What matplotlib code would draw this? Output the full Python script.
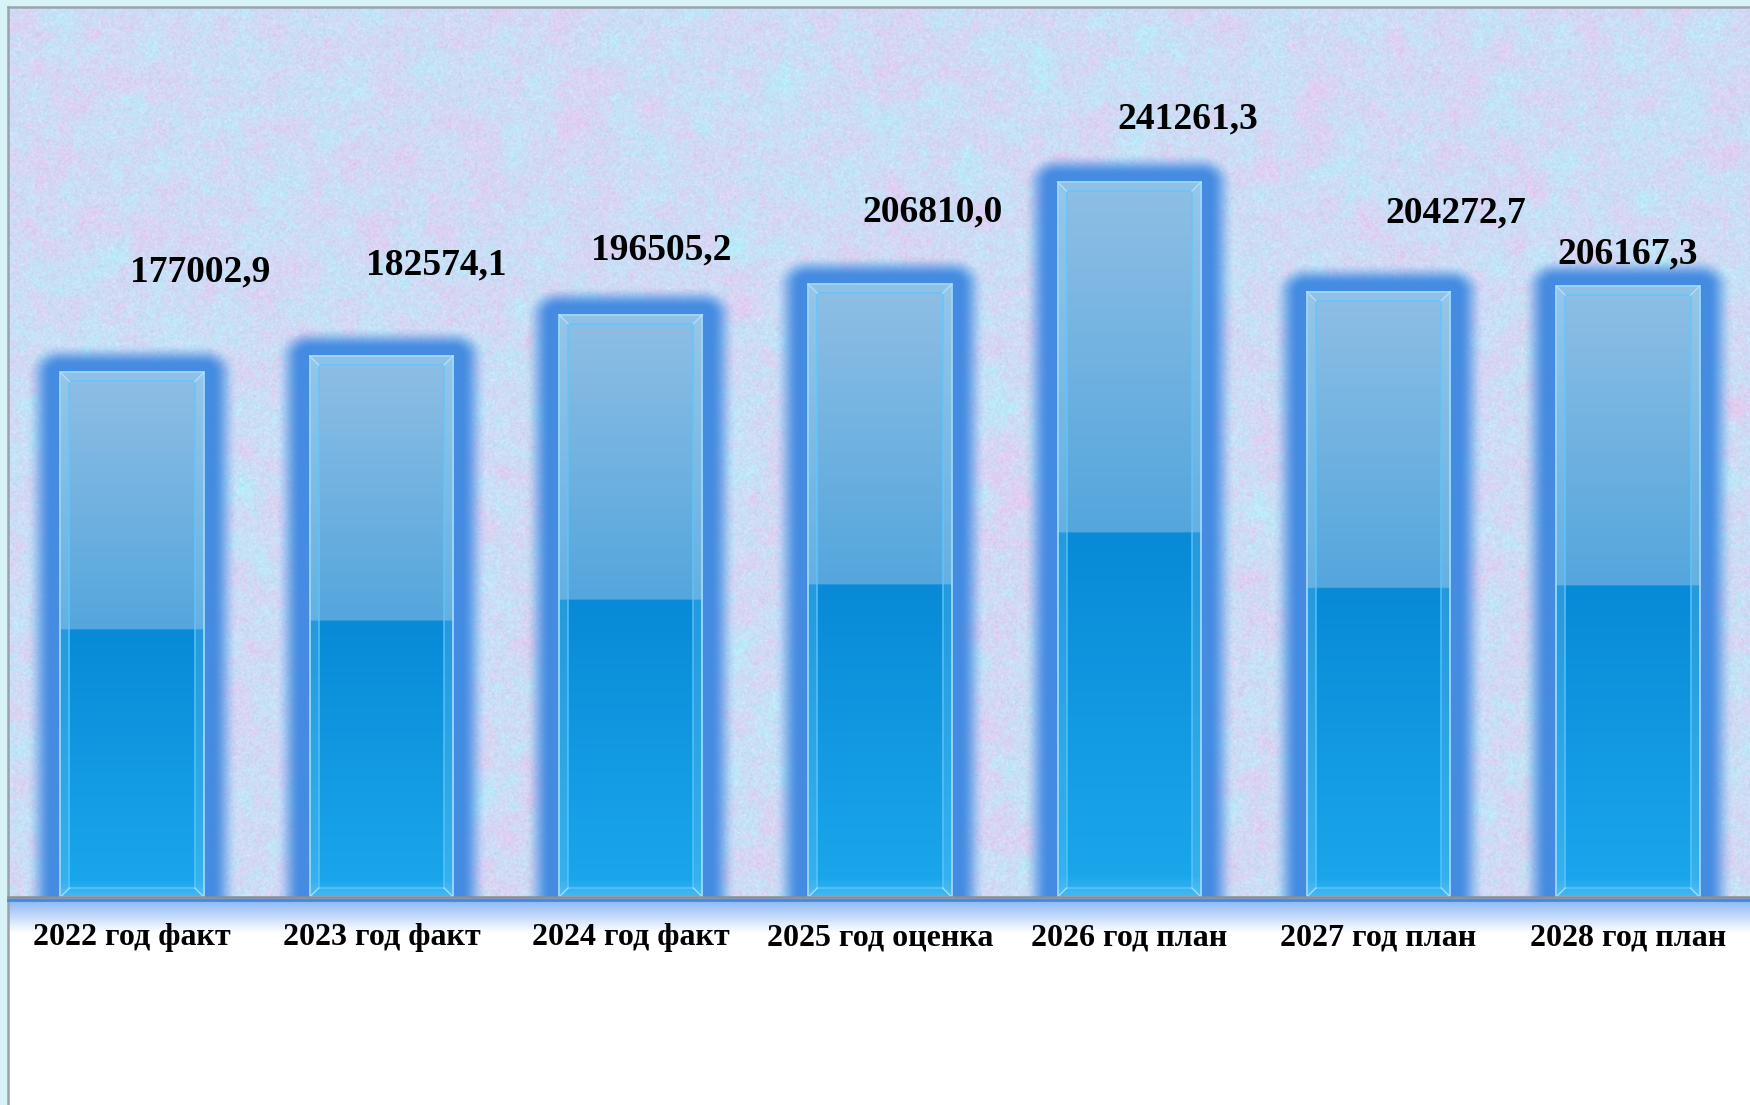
import numpy as np
import matplotlib
matplotlib.use("Agg")
import matplotlib.pyplot as plt
from matplotlib.patches import Rectangle, Polygon
from matplotlib.lines import Line2D

# ---------------- data ----------------
categories = ["2022 год факт", "2023 год факт", "2024 год факт", "2025 год оценка",
              "2026 год план", "2027 год план", "2028 год план"]
values = [177002.9, 182574.1, 196505.2, 206810.0, 241261.3, 204272.7, 206167.3]
# label offsets (pixels) from the bar top centre, as placed in the original
label_dx = [68, 55, 31, 53, 58, 77, 0]
label_dy = [100, 91, 65, 72, 63, 79, 32]

W_PX, H_PX = 1750, 1105
DPI = 100
fig = plt.figure(figsize=(W_PX / DPI, H_PX / DPI), dpi=DPI)
fig.patch.set_facecolor("white")

# outer light cyan margins
fig.patches.append(Rectangle((0, 0), 8 / W_PX, 1, transform=fig.transFigure,
                             color="#d8f3f7", zorder=0))
fig.patches.append(Rectangle((0, 1 - 7 / H_PX), 1, 7 / H_PX, transform=fig.transFigure,
                             color="#d8f3f7", zorder=0))

base_px = 897
top_px = 8
left_px = 9
ax = fig.add_axes([left_px / W_PX, (H_PX - base_px) / H_PX,
                   1 - left_px / W_PX, (base_px - top_px) / H_PX])
XL = (-0.494, 6.49)
YL = (0, 300000)
ax.set_xlim(*XL)
ax.set_ylim(*YL)
for s in ax.spines.values():
    s.set_visible(False)
ax.set_xticks([])
ax.set_yticks([])

# ---------------- textured pastel background (decoration) ----------------
ny, nx = 889, 1741
rng = np.random.default_rng(3)


def smooth_noise(scale):
    n = rng.standard_normal((ny, nx))
    F = np.fft.fft2(n)
    fy = np.fft.fftfreq(ny)[:, None]
    fx = np.fft.fftfreq(nx)[None, :]
    filt = np.exp(-((fx ** 2 + fy ** 2) * (scale ** 2)))
    out = np.real(np.fft.ifft2(F * filt))
    return (out - out.mean()) / (out.std() + 1e-9)


n1 = smooth_noise(40)
n2 = smooth_noise(10)
n3 = smooth_noise(3)
base = np.array([206, 220, 245], dtype=float)
pink = np.array([11, -8, -2], dtype=float)
cyan = np.array([-8, 6, 2], dtype=float)
tex = (base[None, None, :]
       + 0.45 * n1[..., None] * pink[None, None, :]
       + 0.45 * n2[..., None] * cyan[None, None, :]
       + 3.0 * n3[..., None])
tex = np.clip(tex, 0, 255) / 255.0
ax.imshow(tex, extent=(XL[0], XL[1], YL[0], YL[1]), aspect="auto", zorder=0,
          interpolation="bilinear")

# ---------------- glow around bars ----------------
bar_w = 0.575
fig.canvas.draw()
axbb = ax.get_window_extent()
px = np.arange(nx)[None, :] + 0.5
py = np.arange(ny)[:, None] + 0.5
alpha = np.zeros((ny, nx))
for i, v in enumerate(values):
    (x0, y0) = ax.transData.transform((i - bar_w / 2, 0)) - [axbb.x0, axbb.y0]
    (x1, y1) = ax.transData.transform((i + bar_w / 2, v)) - [axbb.x0, axbb.y0]
    ytop = ny - y1
    dx = np.maximum(np.maximum(x0 - px, 0), px - x1)
    dy = np.maximum(ytop - py, 0)
    d = np.hypot(dx, dy * 1.2)
    t = np.clip((d - 9) / 25.0, 0, 1)
    a = 1 - t * t * (3 - 2 * t)
    alpha = np.maximum(alpha, a)
glow = np.zeros((ny, nx, 4))
glow[..., 0] = 64 / 255
glow[..., 1] = 138 / 255
glow[..., 2] = 225 / 255
glow[..., 3] = alpha * 0.97
ax.imshow(glow, extent=(XL[0], XL[1], YL[0], YL[1]), aspect="auto", zorder=1,
          interpolation="bilinear")

# ---------------- bars ----------------
N = 400
f = np.linspace(1, 0, N)  # fraction from bottom (row 0 = top)
split = 0.51
c_top = np.array([143, 191, 229])
c_st = np.array([84, 166, 221])
c_sb = np.array([8, 138, 214])
c_b1 = np.array([26, 166, 235])
c_b0 = np.array([62, 182, 242])
grad = np.zeros((N, 3))
for k, fk in enumerate(f):
    if fk >= split:
        t = (fk - split) / (1 - split)
        grad[k] = c_st + (c_top - c_st) * t
    elif fk >= 0.03:
        t = (fk - 0.03) / (split - 0.03)
        grad[k] = c_b1 + (c_sb - c_b1) * t
    else:
        t = fk / 0.03
        grad[k] = c_b0 + (c_b1 - c_b0) * t
grad = (grad / 255.0)[:, None, :]

bx = 9 / (axbb.width / (XL[1] - XL[0]))
by = 9 / (axbb.height / (YL[1] - YL[0]))
for i, v in enumerate(values):
    L, R, T = i - bar_w / 2, i + bar_w / 2, v
    ax.imshow(grad, extent=(L, R, 0, T), aspect="auto", zorder=3, interpolation="bilinear")
    polys = [
        ([(L, 0), (L, T), (L + bx, T - by), (L + bx, by)], 0.16),
        ([(R, 0), (R, T), (R - bx, T - by), (R - bx, by)], 0.16),
        ([(L, T), (R, T), (R - bx, T - by), (L + bx, T - by)], 0.06),
        ([(L, 0), (R, 0), (R - bx, by), (L + bx, by)], 0.05),
    ]
    for pts, al in polys:
        ax.add_patch(Polygon(pts, closed=True, facecolor="#bfeaff", alpha=al,
                             edgecolor="none", zorder=4))
    ax.add_patch(Rectangle((L, 0), R - L, T, facecolor="none", edgecolor="#9cd8fb",
                           lw=1.3, zorder=5))
    ax.add_patch(Rectangle((L + bx, by), R - L - 2 * bx, T - 2 * by, facecolor="none",
                           edgecolor="#5cc8ff", lw=1.2, alpha=0.8, zorder=5))
    for (xa, ya, xb, yb) in [(L, T, L + bx, T - by), (R, T, R - bx, T - by),
                             (L, 0, L + bx, by), (R, 0, R - bx, by)]:
        ax.add_line(Line2D([xa, xb], [ya, yb], color="#b8e6ff", lw=1.0, alpha=0.8,
                           zorder=5))

# ---------------- labels ----------------
serif = ["Liberation Serif", "DejaVu Serif"]
for i, v in enumerate(values):
    txt = f"{v:.1f}".replace(".", ",")
    ax.annotate(txt, xy=(i, v), xytext=(label_dx[i], label_dy[i]),
                textcoords="offset pixels", ha="center", va="center",
                fontsize=27, fontweight="bold", family=serif, color="black",
                zorder=6, annotation_clip=False)
for i, c in enumerate(categories):
    ax.annotate(c, xy=(i, 0), xytext=(0, -41), textcoords="offset pixels",
                ha="center", va="center", fontsize=23, fontweight="bold",
                family=serif, color="black", annotation_clip=False)

# ---------------- band below baseline ----------------
band = fig.add_axes([left_px / W_PX, (H_PX - 933) / H_PX, 1 - left_px / W_PX,
                     (933 - base_px) / H_PX], zorder=-1)
bg = np.linspace(0, 1, 60)[:, None]
c0 = np.array([128, 176, 244]) / 255
c1 = np.array([1.0, 1.0, 1.0])
bandimg = (c0[None, :] * (1 - bg) + c1[None, :] * bg)[:, None, :]
band.imshow(bandimg, aspect="auto", extent=(0, 1, 0, 1), interpolation="bilinear")
band.axis("off")

# frame lines
fig.add_artist(Line2D([8 / W_PX, 8 / W_PX], [0, 1 - 7 / H_PX], transform=fig.transFigure,
                      color="#9aa3a8", lw=1.8))
fig.add_artist(Line2D([8 / W_PX, 1], [1 - 7 / H_PX, 1 - 7 / H_PX], transform=fig.transFigure,
                      color="#9aa3a8", lw=1.8))
fig.add_artist(Line2D([8 / W_PX, 1], [(H_PX - base_px) / H_PX] * 2, transform=fig.transFigure,
                      color="#8a8f93", lw=1.8, zorder=10))
fig.add_artist(Line2D([8 / W_PX, 1], [(H_PX - base_px - 2.5) / H_PX] * 2,
                      transform=fig.transFigure, color="#3f8ae0", lw=2.0, zorder=9))

fig.savefig("out.png", dpi=DPI)
